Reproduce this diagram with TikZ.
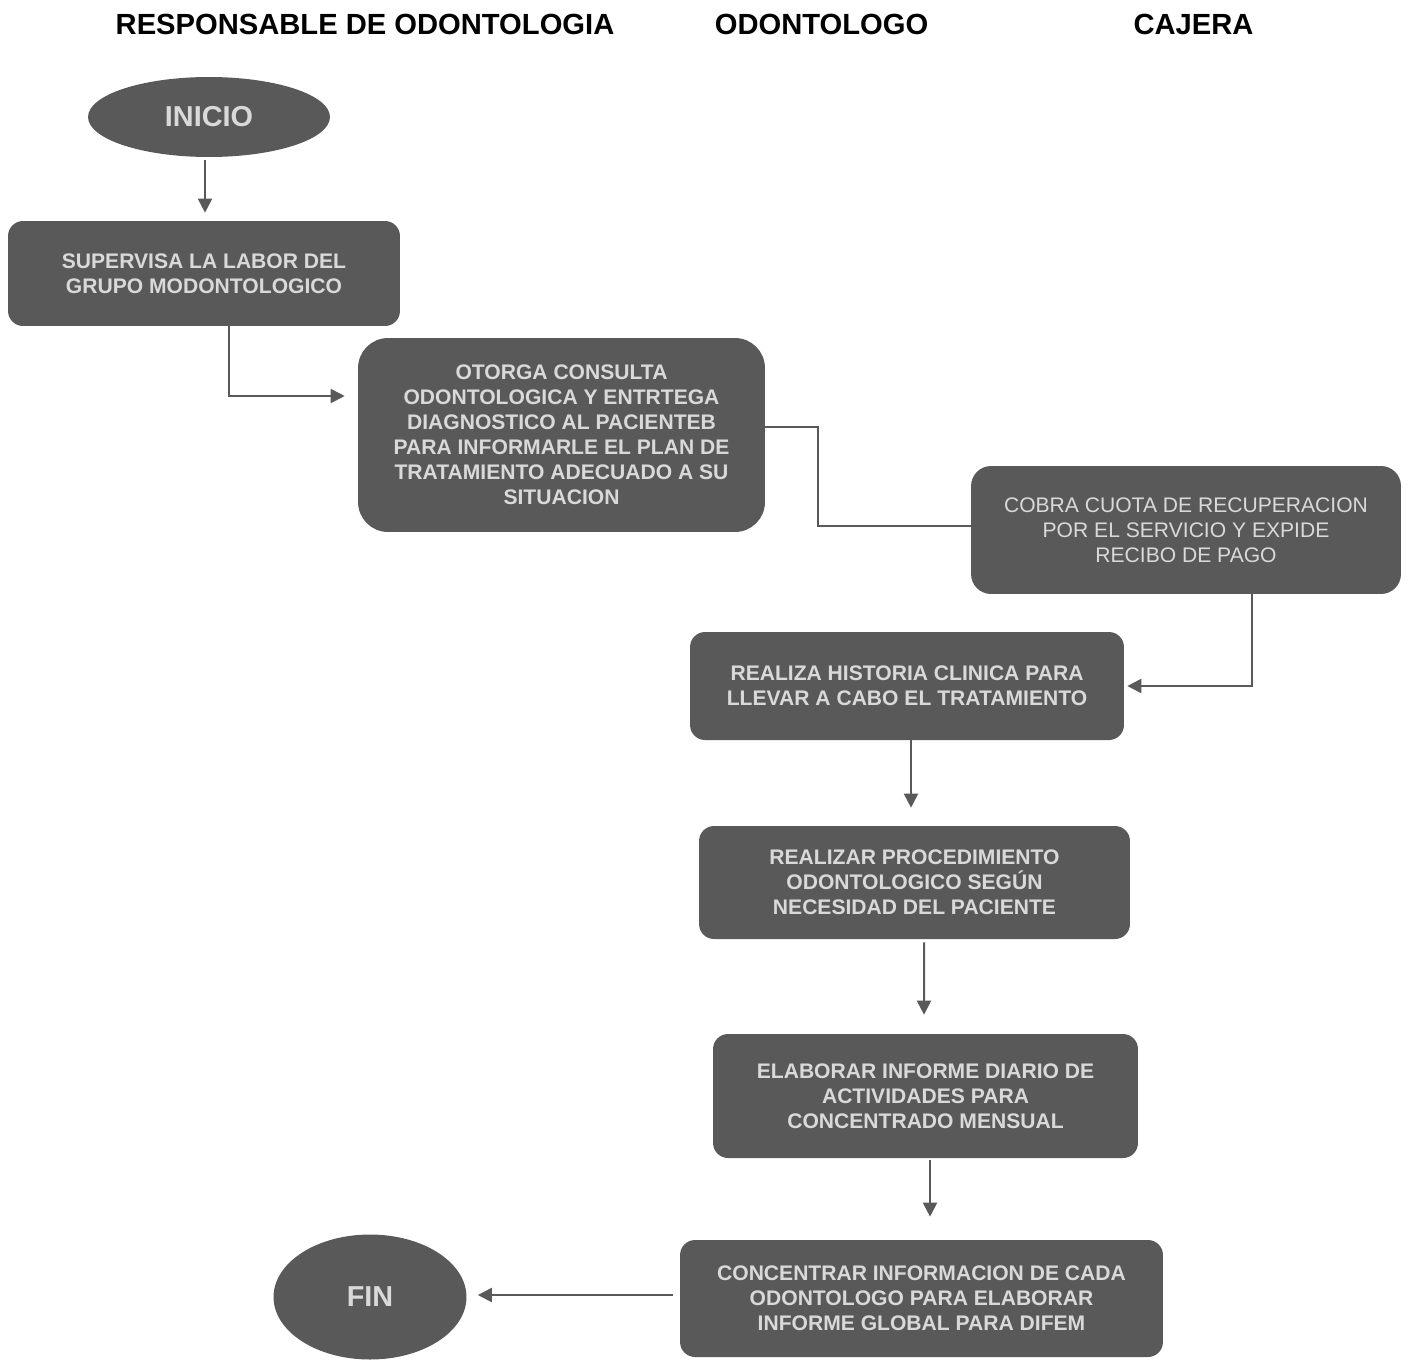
\documentclass[tikz,border=0pt]{standalone}
\usepackage{fontspec}
\setmainfont{Liberation Sans}
\usepackage{tikz}
\usetikzlibrary{arrows.meta,calc,shapes.geometric}
\definecolor{boxgray}{RGB}{89,89,89}
\definecolor{txtgray}{RGB}{217,217,217}

\begin{document}
\begin{tikzpicture}[x=0.02cm,y=-0.02cm,>={Triangle[length=8pt,width=8pt]},
    box/.style={fill=boxgray,draw=none,rounded corners=0.3cm,align=center,text=txtgray,
      font=\fontsize{12}{14.2}\selectfont\bfseries,inner sep=0pt},
    term/.style={ellipse,fill=boxgray,draw=none,text=txtgray,inner sep=0pt,
      font=\fontsize{16.4}{19}\selectfont\bfseries},
    hdr/.style={font=\fontsize{16.6}{19}\selectfont\bfseries,inner sep=0pt},
    arr/.style={->,draw=boxgray,line width=1.14pt},
    lin/.style={draw=boxgray,line width=1.14pt}]
  \useasboundingbox (0,0) rectangle (1408,1359);
  % encabezados
  \node[hdr] (r1) at (365,24) {RESPONSABLE DE ODONTOLOGIA};
  \node[hdr] (r2) at (821.5,24) {ODONTOLOGO};
  \node[hdr] (r3) at (1193.5,24) {CAJERA};

  \node[term,minimum width=4.84cm,minimum height=1.6cm] (inicio) at (209,117) {INICIO};
  \node[box,minimum width=7.84cm,minimum height=2.10cm] (s) at (204,273.5)
    {SUPERVISA LA LABOR DEL\\GRUPO MODONTOLOGICO};
  \node[box,rounded corners=0.6cm,minimum width=8.14cm,minimum height=3.88cm] (o) at (561.5,435)
    {OTORGA CONSULTA\\ODONTOLOGICA Y ENTRTEGA\\DIAGNOSTICO AL PACIENTEB\\PARA INFORMARLE EL PLAN DE\\TRATAMIENTO ADECUADO A SU\\SITUACION};
  \node[box,rounded corners=0.4cm,font=\fontsize{12}{14.2}\selectfont,minimum width=8.6cm,minimum height=2.56cm] (c) at (1186,530)
    {COBRA CUOTA DE RECUPERACION\\POR EL SERVICIO Y EXPIDE\\RECIBO DE PAGO};
  \node[box,minimum width=8.68cm,minimum height=2.16cm] (h) at (907,686)
    {REALIZA HISTORIA CLINICA PARA\\LLEVAR A CABO EL TRATAMIENTO};
  \node[box,minimum width=8.62cm,minimum height=2.26cm] (p) at (914.5,882.5)
    {REALIZAR PROCEDIMIENTO\\ODONTOLOGICO SEGÚN\\NECESIDAD DEL PACIENTE};
  \node[box,minimum width=8.5cm,minimum height=2.48cm] (e) at (925.5,1096)
    {ELABORAR INFORME DIARIO DE\\ACTIVIDADES PARA\\CONCENTRADO MENSUAL};
  \node[box,minimum width=9.66cm,minimum height=2.34cm] (k) at (921.5,1298.5)
    {CONCENTRAR INFORMACION DE CADA\\ODONTOLOGO PARA ELABORAR\\INFORME GLOBAL PARA DIFEM};
  \node[term,minimum width=3.86cm,minimum height=2.5cm] (fin) at (370,1297) {FIN};

  \draw[arr] ($(inicio.south)+(-4,3)$) -- ($(s.north)+(1,-8)$);
  \draw[arr,shorten >=0.26cm] ($(s.south)+(25,0)$) |- ($(o.west)+(0,-39)$);
  \draw[lin] ($(o.east)+(0,-8)$) -- ++(53,0) |- ($(c.west)+(0,-4)$);
  \draw[arr,shorten >=0.06cm] ($(c.south)+(66,0)$) |- (h.east);
  \draw[arr] ($(h.south)+(4,0)$) -- ($(p.north)+(-3.5,-18)$);
  \draw[arr] ($(p.south)+(9.5,3)$) -- ($(e.north)+(-1.5,-19)$);
  \draw[arr] ($(e.south)+(4.5,2)$) -- ($(k.north)+(8.5,-23)$);
  \draw[arr] ($(k.west)+(-7,-3.5)$) -- ($(fin.east)+(11,-2)$);
\end{tikzpicture}
\end{document}
